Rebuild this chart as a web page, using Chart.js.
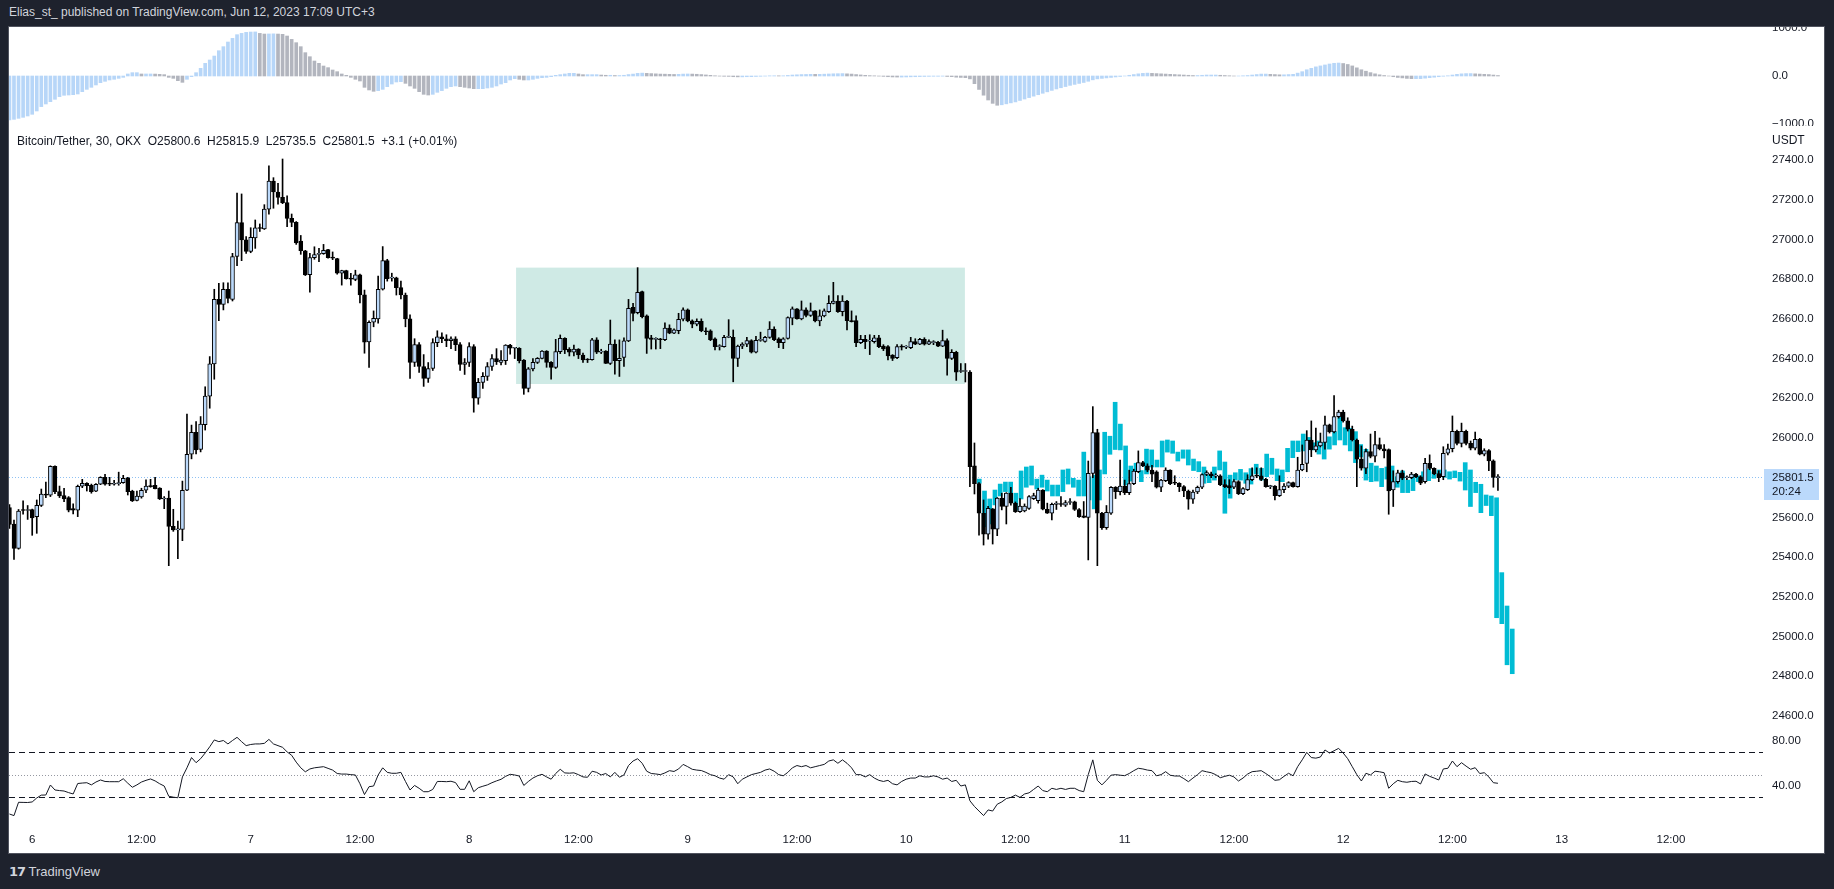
<!DOCTYPE html>
<html><head><meta charset="utf-8"><title>BTC/USDT</title>
<script src="https://cdn.jsdelivr.net/npm/chart.js@4.4.1/dist/chart.umd.min.js"></script>
<style>
html,body{margin:0;padding:0;}
body{width:1834px;height:889px;background:#1e222d;position:relative;overflow:hidden;font-family:"Liberation Sans",Arial,sans-serif;}
#hdr{position:absolute;left:9px;top:5px;font-size:12px;line-height:14px;color:#d1d4dc;white-space:pre;}
#panel{position:absolute;left:8px;top:26px;width:1817px;height:828px;background:#fff;box-sizing:border-box;border:1px solid #50535e;}
canvas{position:absolute;left:9px;}
#cMacd{top:27px}
#cMain{top:126px}
#cRsi{top:728px}
#legend{position:absolute;left:17px;top:134px;font-size:12px;line-height:14px;color:#131722;white-space:pre;}
#usdt{position:absolute;left:1772px;top:133px;font-size:12px;line-height:14px;color:#131722;}
#footer{position:absolute;left:9px;top:864px;font-size:13px;line-height:16px;color:#d1d4dc;white-space:pre;}
#footer b{font-family:"DejaVu Sans";font-weight:900;letter-spacing:-1px;}
</style></head>
<body>
<div id="hdr">Elias_st_ published on TradingView.com, Jun 12, 2023 17:09 UTC+3</div>
<div id="panel"></div>
<canvas id="cMacd" width="1815" height="99"></canvas>
<canvas id="cMain" width="1815" height="602"></canvas>
<canvas id="cRsi" width="1815" height="125"></canvas>
<div id="legend">Bitcoin/Tether, 30, OKX  O25800.6  H25815.9  L25735.5  C25801.5  +3.1 (+0.01%)</div>
<div id="usdt">USDT</div>
<div id="footer"><b>17</b> TradingView</div>
<script>
// ---------- DATA ----------
const startIndex = -5; // first candle = 30-min bar index relative to Jun 6 00:00
const opens = [
25650,25567,25444,25640,25635,25640,25604,25661,25718,25712,
25857,25730,25710,25700,25645,25636,25757,25772,25762,25732,
25767,25802,25772,25767,25770,25775,25800,25733,25686,25703,
25737,25758,25762,25748,25693,25697,25555,25537,25540,25737,
25918,26029,25942,26067,26211,26373,26698,26673,26749,26698,
26914,27085,26998,26940,27008,27058,27053,27152,27294,27239,
27212,27185,27106,27086,26992,26943,26822,26908,26925,26928,
26949,26908,26903,26830,26843,26802,26798,26822,26721,26484,
26583,26600,26749,26893,26805,26807,26757,26720,26600,26380,
26470,26360,26300,26350,26480,26510,26500,26490,26500,26470,
26370,26380,26460,26200,26280,26310,26360,26400,26380,26389,
26468,26452,26452,26393,26250,26348,26381,26401,26438,26381,
26356,26435,26502,26446,26432,26448,26418,26395,26395,26494,
26432,26438,26376,26473,26389,26406,26489,26658,26631,26737,
26615,26505,26497,26500,26495,26553,26528,26540,26598,26645,
26590,26573,26587,26540,26540,26500,26460,26460,26507,26507,
26401,26463,26473,26490,26432,26492,26487,26507,26548,26500,
26480,26502,26603,26650,26600,26645,26617,26640,26590,26615,
26636,26678,26690,26636,26690,26591,26591,26480,26497,26488,
26485,26505,26463,26460,26418,26405,26460,26458,26455,26485,
26473,26497,26473,26480,26482,26463,26490,26401,26432,26335,
26335,26332,25860,25770,25621,25516,25643,25541,25697,25655,
25722,25672,25629,25633,25646,25695,25685,25738,25641,25621,
25666,25670,25662,25675,25678,25640,25608,25600,25822,26027,
25621,25549,25621,25752,25730,25758,25725,25770,25830,25876,
25860,25838,25830,25752,25785,25838,25775,25772,25755,25733,
25692,25728,25752,25816,25820,25808,25810,25765,25760,25752,
25780,25720,25740,25790,25810,25810,25792,25755,25758,25710,
25740,25758,25775,25755,25839,25872,25990,25940,25960,25978,
26066,26031,26108,26130,26086,26044,25990,25894,25848,25931,
25908,25967,25945,25942,25738,25780,25825,25800,25800,25818,
25805,25780,25872,25847,25821,25805,25923,25946,26034,25973,
26034,25973,25949,25993,25919,25937,25885,25800.6];
const highs = [
25665,25587,25640,25683,25660,25642,25688,25743,25778,25860,
25860,25758,25747,25705,25668,25763,25792,25775,25768,25770,
25805,25817,25802,25787,25828,25812,25802,25737,25733,25747,
25789,25792,25802,25750,25705,25733,25641,25582,25783,26121,
26065,26083,26108,26258,26410,26749,26779,26782,26782,26930,
27233,27229,27014,27059,27098,27078,27175,27370,27311,27283,
27405,27220,27128,27090,27020,26945,26930,26963,26955,26975,
26950,26937,26905,26845,26845,26829,26845,26825,26745,26590,
26640,26816,26964,26900,26830,26810,26790,26730,26620,26500,
26480,26420,26380,26500,26540,26530,26520,26510,26510,26480,
26400,26480,26470,26300,26330,26380,26420,26450,26440,26470,
26472,26455,26455,26395,26355,26400,26405,26440,26440,26385,
26497,26519,26505,26455,26468,26450,26428,26400,26502,26505,
26447,26440,26594,26494,26494,26505,26698,26678,26858,26740,
26620,26517,26505,26502,26580,26570,26550,26628,26655,26650,
26595,26600,26600,26555,26545,26505,26470,26517,26596,26544,
26468,26480,26507,26495,26512,26533,26512,26586,26560,26505,
26505,26610,26660,26652,26690,26655,26680,26642,26645,26650,
26717,26784,26717,26717,26693,26640,26615,26517,26517,26520,
26517,26517,26470,26465,26420,26470,26470,26465,26507,26500,
26502,26505,26495,26490,26487,26543,26500,26445,26437,26375,
26375,26340,25975,25775,25688,25656,25645,25700,25722,25725,
25752,25678,25695,25668,25710,25722,25747,25740,25672,25672,
25680,25705,25685,25695,25682,25645,25680,25884,26158,26044,
25626,25660,25755,25755,25889,25788,25838,25843,25935,25882,
25870,25862,25835,25792,25850,25840,25810,25775,25760,25738,
25738,25758,25820,25835,25828,25820,25815,25790,25790,25790,
25785,25750,25815,25850,25850,25850,25797,25762,25760,25810,
25770,25780,25778,25903,25965,26037,26086,26050,26025,26111,
26070,26213,26140,26140,26102,26060,25995,25960,25945,26020,
26034,26000,25967,25945,25835,25838,25838,25810,25827,25822,
25810,25898,25915,25850,25835,25956,25970,26111,26040,26075,
26040,25985,26030,25998,25946,25942,25890,25815.9];
const lows = [
25545,25389,25440,25616,25590,25510,25520,25655,25700,25705,
25720,25700,25680,25628,25618,25604,25750,25733,25722,25730,
25765,25762,25760,25762,25762,25772,25713,25680,25683,25697,
25725,25752,25743,25690,25644,25357,25530,25392,25483,25735,
25895,25920,25930,26040,26150,26296,26591,26645,26680,26690,
26868,26893,26930,26933,26955,27040,27050,27127,27157,27178,
27180,27064,27064,26975,26925,26818,26735,26900,26888,26925,
26905,26898,26825,26770,26800,26770,26792,26680,26427,26356,
26560,26578,26745,26790,26790,26720,26700,26560,26300,26360,
26330,26260,26280,26340,26460,26480,26460,26450,26440,26340,
26320,26360,26130,26170,26250,26290,26340,26370,26368,26370,
26422,26400,26378,26220,26232,26338,26375,26398,26356,26296,
26350,26425,26425,26413,26413,26400,26380,26380,26392,26425,
26425,26375,26370,26322,26310,26360,26485,26590,26625,26605,
26426,26448,26448,26450,26490,26525,26525,26525,26590,26585,
26555,26565,26535,26520,26490,26443,26443,26457,26505,26283,
26360,26450,26460,26428,26428,26487,26482,26502,26490,26455,
26450,26498,26570,26598,26595,26610,26612,26585,26565,26610,
26632,26675,26632,26615,26544,26584,26460,26475,26450,26420,
26478,26455,26440,26393,26390,26400,26443,26450,26450,26470,
26470,26468,26470,26470,26460,26460,26317,26395,26290,26330,
26282,25755,25718,25511,25461,25490,25466,25508,25638,25567,
25662,25625,25625,25628,25640,25690,25672,25638,25620,25587,
25640,25655,25655,25665,25635,25600,25598,25386,25800,25357,
25540,25540,25615,25695,25713,25715,25715,25765,25825,25855,
25830,25780,25748,25730,25780,25765,25765,25730,25705,25641,
25670,25720,25745,25810,25800,25800,25760,25750,25720,25745,
25715,25715,25735,25785,25800,25785,25752,25745,25688,25705,
25725,25750,25752,25752,25835,25830,25906,25930,25955,25944,
26025,26025,26100,26080,26035,25985,25755,25838,25820,25900,
25880,25940,25900,25616,25655,25772,25790,25790,25795,25800,
25765,25772,25840,25815,25780,25790,25915,25930,25965,25955,
25965,25940,25940,25915,25910,25835,25752,25735.5];
const closes = [
25565,25444,25632,25635,25640,25598,25661,25718,25712,25857,
25730,25708,25693,25637,25636,25757,25772,25760,25730,25767,
25802,25767,25767,25770,25772,25797,25730,25683,25708,25737,
25758,25755,25745,25693,25697,25555,25537,25540,25737,25918,
26029,25940,26070,26211,26373,26698,26673,26749,26703,26914,
27085,26998,26940,27011,27058,27055,27153,27294,27239,27212,
27185,27106,27086,26983,26943,26821,26908,26924,26928,26945,
26908,26906,26830,26843,26802,26800,26822,26721,26482,26583,
26603,26749,26893,26802,26807,26757,26720,26600,26380,26470,
26360,26300,26350,26480,26510,26500,26490,26500,26470,26370,
26380,26460,26200,26280,26310,26360,26400,26385,26393,26468,
26452,26452,26390,26250,26348,26381,26401,26438,26381,26356,
26435,26502,26443,26432,26448,26418,26393,26393,26494,26432,
26438,26376,26473,26389,26401,26489,26653,26628,26733,26611,
26502,26497,26500,26495,26553,26528,26545,26598,26645,26590,
26573,26587,26540,26535,26495,26460,26460,26507,26507,26401,
26463,26473,26490,26432,26492,26495,26507,26548,26495,26480,
26500,26606,26650,26600,26645,26617,26640,26590,26615,26640,
26678,26690,26636,26690,26591,26586,26480,26497,26485,26490,
26505,26460,26448,26413,26401,26460,26458,26460,26485,26473,
26497,26473,26485,26485,26463,26490,26401,26432,26332,26335,
26337,25855,25770,25621,25516,25646,25541,25697,25655,25722,
25672,25629,25657,25657,25705,25710,25738,25641,25621,25666,
25672,25665,25675,25678,25640,25604,25600,25822,26027,25621,
25549,25626,25752,25730,25758,25725,25770,25833,25876,25860,
25838,25818,25752,25788,25838,25770,25772,25755,25733,25692,
25728,25752,25816,25826,25810,25810,25765,25755,25748,25780,
25720,25745,25790,25810,25808,25792,25755,25755,25710,25740,
25758,25775,25755,25839,25868,25990,25940,25960,25980,26066,
26031,26108,26130,26086,26044,25990,25894,25848,25931,25907,
25967,25945,25935,25734,25780,25825,25798,25805,25818,25805,
25772,25872,25847,25821,25800,25923,25946,26034,25973,26034,
25973,25949,25993,25919,25937,25885,25802,25801.5];
const rsiValues = [
15.4,14,25.7,25.6,25.5,26,29.5,32,32.1,40.9,
36.5,36,35.6,34.2,33,42.2,42.6,42.9,41,43.5,
45.3,44,43.8,43.8,43.8,46.4,42.5,38.9,41,43.5,
45,46.2,44.5,42,40,31,30.2,29.7,48,56,
65,60.5,64,69,74.5,80.5,79,80,77,80,
82.8,79,75.5,76.5,77,77,77.5,81,77,75.5,
74,70,67,61,56,52.5,55,56,56.5,57,
55.5,54,51,50.5,50.5,50,49.7,42,32.5,39.4,
40,49.7,56,52,51.2,51.2,52,44,36.5,40.5,
38,35,35,37,44,44,43.8,44.2,43,37.1,
37.1,44.6,35,38.5,39.8,41,42.9,44.5,45.9,48.5,
50.3,49.7,48.8,40.5,44,47,49,50.3,48,46,
51,54.7,51.5,51.3,51.6,50,48,47.7,53,52,
49.7,51,48,52,47.7,49.7,58,62,64,60,
53,51,50.6,50,51.5,53.5,52.8,55,59,57,
54.7,54,53.6,52,50,49,47,46,50,48,
42,46,48,50,51,52,54,55,53,50,
49,52,56,58,57,58,56,57,58,59,
62,63,60,63,60,56,50,50,48,50,
47,45,44,45,42,41,44,46,47,47,
49,48,48,49,48,46,47,44,45,40,
41,27,22,18,14,19,18,24,26,29,
30,32,30,33,34,37,40,36,35,38,
37,38,37,38,38,36,35,50,63,45,
41,45,49.5,50,49.5,49.1,51,53.5,55.6,55,
54,53.5,49,50,52.6,49.5,48.8,48.8,46.5,43.8,
47,50,53.5,52.5,51.7,50,47.3,48.5,49.5,48,
44.4,47,50.5,52.6,53,53.5,51,48.2,45,45.5,
48.5,51.2,49,57,63,69.6,65,64.5,65.5,71.7,
69,71,73.1,69,64,57,50,44.4,51.2,49.7,
53,52.5,51.7,38,42,45,43.8,43.3,44,44.2,
41.8,50.6,48.5,47,45.3,55,55.6,62,57,60.5,
57.5,54.7,56.1,51,51.7,48,42.9,42.4];
const macdHist = [
-915,-903,-882,-861,-833,-798,-729,-638,-583,-535,
-486,-430,-402,-396,-389,-375,-326,-278,-236,-187,
-139,-111,-83,-69,-49,-28,42,69,69,42,
42,42,40,35,28,-28,-49,-97,-132,-69,
-14,69,160,264,333,416,527,611,708,784,
861,888,909,916,918,888,874,876,878,874,
868,833,763,694,611,486,402,312,264,208,
174,125,90,42,14,-28,-69,-104,-236,-291,
-319,-305,-278,-222,-167,-125,-118,-153,-208,-257,
-326,-382,-396,-382,-340,-305,-257,-222,-208,-222,
-236,-250,-264,-264,-264,-250,-236,-208,-167,-139,
-83,-56,-69,-83,-83,-69,-49,-35,-28,-14,
14,28,42,56,56,42,28,28,28,28,
20,15,15,10,10,15,30,40,55,60,
55,50,45,40,38,35,32,35,40,42,
40,36,30,22,14,5,-2,-6,-8,-15,
-18,-18,-15,-14,-10,-6,-2,4,5,4,
5,12,20,25,30,32,35,34,35,38,
42,46,48,50,45,40,30,22,14,8,
4,-2,-8,-15,-20,-22,-22,-20,-17,-15,
-12,-10,-8,-6,-6,-4,-10,-14,-25,-30,
-35,-60,-160,-280,-400,-500,-570,-610,-600,-580,
-560,-540,-510,-480,-450,-420,-390,-360,-330,-300,
-270,-245,-220,-195,-175,-155,-135,-110,-80,-60,
-50,-40,-30,-20,-10,0,15,30,45,55,
60,55,50,45,40,35,30,25,20,15,
10,10,15,20,20,20,15,10,5,0,
0,5,10,20,30,40,40,35,30,25,
25,30,35,60,90,130,160,190,210,230,
250,265,270,260,240,210,170,130,100,70,
45,25,10,0,-15,-30,-40,-50,-55,-55,
-55,-45,-35,-25,-15,-5,5,20,35,45,
50,50,45,40,35,30,20,10];
// projected "bars pattern" (cyan), own bar sequence
const cyanLows = [
25772,25553,25567,25663,25708,25730,25722,25637,25693,25752,
25763,25743,25752,25733,25708,25708,25730,25768,25752,25708,
25708,25688,25643,25688,25819,25918,25942,25940,25763,25783,
25836,25780,25819,25854,25854,25854,25929,25923,25884,25898,
25864,25836,25830,25772,25775,25788,25839,25621,25697,25788,
25788,25772,25768,25819,25788,25805,25817,25785,25780,25830,
25901,25931,25935,25943,25940,25919,25894,25944,25965,25990,
25965,25935,25876,25905,25788,25780,25783,25755,25793,25780,
25752,25725,25725,25735,25780,25788,25785,25797,25809,25802,
25793,25800,25783,25738,25655,25725,25624,25660,25609,25095,
25065,24858,24813];
const cyanHighs = [
25793,25733,25693,25738,25768,25778,25778,25722,25834,25854,
25859,25793,25813,25788,25763,25763,25839,25844,25797,25788,
25929,25805,25813,25839,26029,26009,26180,26070,25960,25859,
25873,25836,25944,25940,25889,25985,25990,25985,25929,25940,
25940,25894,25881,25854,25813,25854,25935,25879,25813,25825,
25842,25825,25846,25868,25847,25919,25898,25844,25839,25948,
25985,25985,26020,26003,25976,25985,25977,26006,26032,26104,
26052,26049,26032,25967,25943,25873,25859,25847,25854,25859,
25805,25834,25788,25813,25809,25830,25844,25830,25839,25839,
25830,25834,25827,25876,25839,25777,25767,25713,25708,25699,
25322,25154,25038];
const priceTicks = [24600,24800,25000,25200,25400,25600,25800,26000,26200,26400,26600,26800,27000,27200,27400];
const macdTicks = [-1000, 0, 1000];
const rsiTicks = [40, 80];
const rsiBands = [70, 50, 30];
const xTickIdx = [0,24,48,72,96,120,144,168,192,216,240,264,288,312,336,360];
const xTickLabels = ['6','12:00','7','12:00','8','12:00','9','12:00','10','12:00','11','12:00','12','12:00','13','12:00'];
const zoneFrom = 106.3, zoneTo = 204.9, zoneLow = 26272, zoneHigh = 26858;
const countdown = '20:24';

// ---------- CHARTS ----------
const idx = opens.map((_, k) => startIndex + k);
const lastClose = closes[closes.length - 1];
const X_MIN = -5.097, X_MAX = 380.23;
const XC_MIN = -185.70, XC_MAX = 149.99;
const FONT = {family: '"Liberation Sans", Arial, sans-serif', size: 11.5};
const TXT = '#131722';

function noPad(s){ s.paddingTop = 0; s.paddingBottom = 0; s.paddingLeft = 0; s.paddingRight = 0; }
function xAxis(min, max, display){
  return {type:'linear', min, max, offset:false, display, grid:{display:false}, border:{display:false}};
}
function yAxis(min, max, ticks, fmt){
  return {position:'right', min, max, grid:{display:false, drawTicks:false}, border:{display:false},
    afterBuildTicks: s => { s.ticks = ticks.map(v => ({value:v})); },
    afterFit: s => { s.width = 61; noPad(s); },
    ticks:{autoSkip:false, padding:9, color:TXT, font:FONT, callback: v => fmt(v)}};
}
const base = {responsive:false, animation:false, devicePixelRatio:1, events:[],
  layout:{padding:0}, plugins:{legend:{display:false}, tooltip:{enabled:false}}};

// MACD histogram
new Chart(document.getElementById('cMacd'), {
  type:'bar',
  data:{datasets:[{
    data: macdHist.map((v, k) => ({x: idx[k], y: v})),
    backgroundColor: macdHist.map((v, k) => (k === 0 || v >= macdHist[k-1]) ? '#b7d6f8' : '#b2b5be'),
    barThickness:3, grouped:false
  }]},
  options:{...base, scales:{
    x: xAxis(X_MIN, X_MAX, false),
    y: yAxis(-1041.7, 1020.8, macdTicks, v => (v < 0 ? '\u2212' + Math.abs(v).toFixed(1) : v.toFixed(1)))
  }}
});

// main price chart
const zonePlugin = {id:'zone', beforeDatasetsDraw(chart){
  const {ctx, scales:{x, y}} = chart;
  const x0 = x.getPixelForValue(zoneFrom), x1 = x.getPixelForValue(zoneTo);
  const y0 = y.getPixelForValue(zoneHigh), y1 = y.getPixelForValue(zoneLow);
  ctx.save(); ctx.fillStyle = '#cfeae5'; ctx.fillRect(x0, y0, x1 - x0, y1 - y0);
  const py = Math.round(y.getPixelForValue(lastClose)) + 0.5;
  ctx.strokeStyle = '#8fc1f3'; ctx.lineWidth = 1; ctx.setLineDash([1, 2]);
  ctx.beginPath(); ctx.moveTo(chart.chartArea.left, py); ctx.lineTo(chart.chartArea.right, py); ctx.stroke();
  ctx.restore();
}, afterDraw(chart){
  const {ctx, scales:{y}, chartArea:a} = chart;
  const py = Math.round(y.getPixelForValue(lastClose));
  ctx.save(); ctx.fillStyle = '#bbd9fb'; ctx.fillRect(a.right + 1, py - 8, 55, 31);
  ctx.fillStyle = TXT; ctx.font = '11.5px "Liberation Sans", Arial, sans-serif'; ctx.textBaseline = 'middle';
  ctx.fillText(lastClose.toFixed(1), a.right + 9, py + 1);
  ctx.fillText(countdown, a.right + 9, py + 15);
  ctx.restore();
}};
new Chart(document.getElementById('cMain'), {
  type:'bar',
  data:{datasets:[
    {xAxisID:'xc', data: cyanLows.map((lo, k) => ({x:k, y:[lo, cyanHighs[k]]})),
     backgroundColor:'#00bcd4', barThickness:4, grouped:false, order:3},
    {xAxisID:'x', data: idx.map((x, k) => ({x, y:[lows[k], highs[k]]})),
     backgroundColor:'#000', barThickness:1, grouped:false, order:2},
    {xAxisID:'x', data: idx.map((x, k) => ({x, y:[opens[k], closes[k]]})),
     backgroundColor: closes.map((c, k) => c >= opens[k] ? '#bbd9fb' : '#000'),
     borderColor:'#000', borderWidth:1, borderSkipped:false, minBarLength:1,
     barThickness:4, grouped:false, order:1}
  ]},
  options:{...base, scales:{
    x: xAxis(X_MIN, X_MAX, false),
    xc: xAxis(XC_MIN, XC_MAX, false),
    y: yAxis(24539.6, 27571.2, priceTicks, v => v.toFixed(1))
  }},
  plugins:[zonePlugin]
});

// RSI
const bandPlugin = {id:'bands', beforeDatasetsDraw(chart){
  const {ctx, chartArea:a, scales:{y}} = chart;
  ctx.save(); ctx.lineWidth = 1;
  rsiBands.forEach((v, k) => {
    const py = Math.round(y.getPixelForValue(v)) + 0.5;
    ctx.setLineDash(k === 1 ? [1, 2] : [6, 4]);
    ctx.strokeStyle = k === 1 ? '#9598a1' : '#131722';
    ctx.beginPath(); ctx.moveTo(a.left, py); ctx.lineTo(a.right, py); ctx.stroke();
  });
  ctx.restore();
}};
new Chart(document.getElementById('cRsi'), {
  type:'line',
  data:{datasets:[{data: rsiValues.map((v, k) => ({x: idx[k], y: v})),
    borderColor:'#131722', borderWidth:1, pointRadius:0, tension:0, fill:false}]},
  options:{...base, scales:{
    x: {type:'linear', min:X_MIN, max:X_MAX, offset:false, position:'bottom',
        grid:{display:false, drawTicks:false}, border:{display:false},
        afterBuildTicks: s => { s.ticks = xTickIdx.map(v => ({value:v})); },
        afterFit: s => { s.height = 31; noPad(s); },
        ticks:{autoSkip:false, maxRotation:0, padding:11, color:TXT, font:FONT,
               callback: v => xTickLabels[xTickIdx.indexOf(v)]}},
    y: yAxis(8.37, 91.0, rsiTicks, v => v.toFixed(2))
  }},
  plugins:[bandPlugin]
});
</script>
</body></html>
